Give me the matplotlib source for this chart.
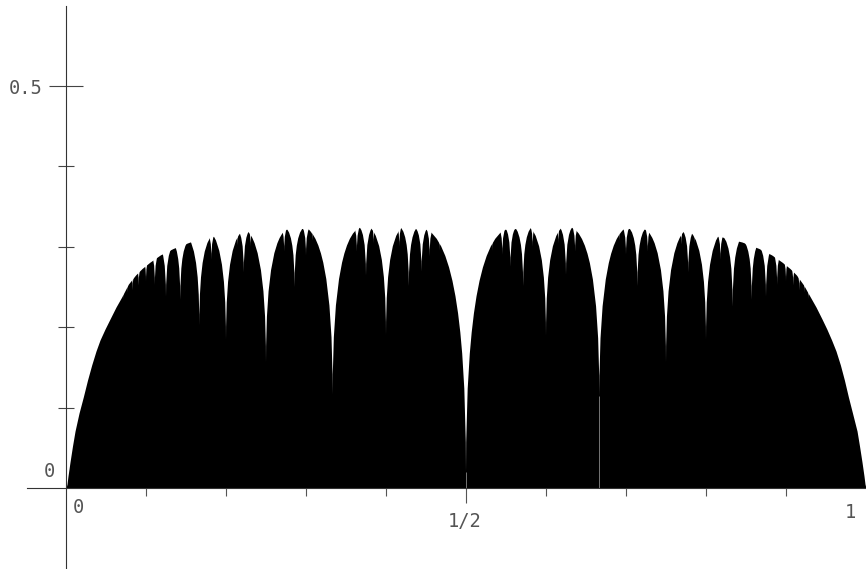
import numpy as np
import matplotlib
matplotlib.use('Agg')
import matplotlib.pyplot as plt
from matplotlib.path import Path
from matplotlib.patches import PathPatch

# smooth outer envelope (arch tops)
env_x = [0.000, 0.00125, 0.0025, 0.005, 0.0081, 0.0113, 0.0163, 0.0216, 0.0269,
         0.0321, 0.0375, 0.0425, 0.0488, 0.055, 0.0625, 0.0696, 0.078, 0.087,
         0.095, 0.105, 0.118, 0.134, 0.155, 0.183, 0.210, 0.250, 0.300, 0.350,
         0.400, 0.450, 0.500, 0.550, 0.600, 0.650, 0.700, 0.750, 0.790, 0.817,
         0.845, 0.866, 0.882, 0.895, 0.905, 0.913, 0.922, 0.9304, 0.9375,
         0.945, 0.951, 0.957, 0.9625, 0.968, 0.973, 0.978, 0.9831, 0.9888,
         0.9919, 0.995, 0.9975, 0.99875, 1.000]
env_y = [0.000, 0.005, 0.0149, 0.0323, 0.0522, 0.0709, 0.0933, 0.1132, 0.1343,
         0.153, 0.1704, 0.1841, 0.1978, 0.2102, 0.2251, 0.2376, 0.2537, 0.265,
         0.273, 0.281, 0.290, 0.298, 0.306, 0.313, 0.318, 0.321, 0.323, 0.324,
         0.325, 0.322, 0.320, 0.322, 0.325, 0.324, 0.323, 0.321, 0.318, 0.313,
         0.306, 0.298, 0.290, 0.281, 0.273, 0.265, 0.2525, 0.2376, 0.2251,
         0.2102, 0.1978, 0.1841, 0.1704, 0.153, 0.1343, 0.1132, 0.0933, 0.0709,
         0.0522, 0.0323, 0.0149, 0.005, 0.000]

# dips at rationals p/q and the depth they reach
notch_x = [1/14, 1/13, 1/12, 1/11, 1/10, 1/9, 1/8, 1/7, 1/6, 2/11, 1/5, 3/14,
           2/9, 3/13, 1/4, 3/11, 2/7, 3/10, 4/13, 1/3, 4/11, 3/8, 5/13, 2/5,
           5/12, 3/7, 4/9, 5/11, 7/15, 1/2, 8/15, 6/11, 5/9, 4/7, 7/12, 3/5,
           8/13, 5/8, 7/11, 2/3, 9/13, 7/10, 5/7, 8/11, 10/13, 3/4, 7/9, 11/14,
           4/5, 9/11, 5/6, 6/7, 7/8, 8/9, 9/10, 10/11, 11/12, 12/13, 13/14]
notch_y = [0.235, 0.243, 0.246, 0.252, 0.257, 0.2525, 0.238, 0.234, 0.202, 0.284, 0.184, 0.302,
           0.268, 0.300, 0.156, 0.294, 0.250, 0.289, 0.308, 0.116, 0.294, 0.264, 0.304, 0.190,
           0.300, 0.251, 0.269, 0.288, 0.295, 0.020, 0.295, 0.290, 0.275, 0.251, 0.300, 0.189,
           0.304, 0.265, 0.294, 0.114, 0.308, 0.290, 0.251, 0.294, 0.303, 0.156, 0.268, 0.305,
           0.184, 0.284, 0.2255, 0.234, 0.238, 0.2525, 0.257, 0.252, 0.246, 0.243, 0.235]

# points where the thin gap runs down to the axis
gap_x = [1/2, 2/3]
gap_y = [0.020, 0.114]


def add_notch(ax, x, yb, env_x, env_y):
    top = np.interp(x, env_x, env_y)
    w = 0.2 * (top - yb)
    yt = max(np.interp([x - w, x, x + w], env_x, env_y)) + 0.002
    verts = [(x - w, yt), (x, yt), (x, yb), (x, yt), (x + w, yt),
             (x + w, yt + 0.05), (x - w, yt + 0.05), (x - w, yt)]
    codes = [Path.MOVETO, Path.CURVE3, Path.CURVE3, Path.CURVE3, Path.CURVE3,
             Path.LINETO, Path.LINETO, Path.CLOSEPOLY]
    ax.add_patch(PathPatch(Path(verts, codes), facecolor='white',
                           edgecolor='none', zorder=2))


fig = plt.figure(figsize=(8.66, 5.69), dpi=100)
ax = fig.add_axes([0, 0, 1, 1])
ax.set_xlim(-0.0825, 1.0)
ax.set_ylim(-0.1007, 0.607)

ax.fill_between(env_x, 0, env_y, color='black', lw=0, zorder=1)
for x, yb in zip(notch_x, notch_y):
    add_notch(ax, x, yb, env_x, env_y)
ax.vlines(gap_x, 0, gap_y, color='#888888', lw=0.6, zorder=2.2)

# axes through the origin
for s in ['top', 'right']:
    ax.spines[s].set_visible(False)
ax.spines['left'].set_position(('data', 0))
ax.spines['bottom'].set_position(('data', 0))
ax.spines['left'].set_bounds(-0.1, 0.6)
ax.spines['bottom'].set_bounds(-0.049, 1.0)
for s in ['left', 'bottom']:
    ax.spines[s].set_color('#333333')
    ax.spines[s].set_linewidth(0.8)
ax.xaxis.set_ticks_position('bottom')
ax.yaxis.set_ticks_position('left')

ax.set_xticks([0.5])
ax.set_xticks([0.1, 0.2, 0.3, 0.4, 0.6, 0.7, 0.8, 0.9], minor=True)
ax.set_yticks([0.5])
ax.set_yticks([0.1, 0.2, 0.3, 0.4], minor=True)
ax.tick_params(axis='x', which='major', direction='out', length=10.8, width=0.8,
               color='#555555', labelbottom=False)
ax.tick_params(axis='x', which='minor', direction='out', length=5.8, width=0.8,
               color='#555555')
ax.tick_params(axis='y', which='major', direction='inout', length=24.5, width=0.8,
               color='#444444', labelleft=False)
ax.tick_params(axis='y', which='minor', direction='inout', length=11.5, width=0.8,
               color='#444444')

font = dict(family='DejaVu Sans Mono', size=13.5, color='#555555')
ax.text(-0.0288, 0.490, '0.5', ha='right', va='baseline', **font)
ax.text(-0.021, 0.014, '0', ha='center', va='baseline', **font)
ax.text(0.0156, -0.031, '0', ha='center', va='baseline', **font)
ax.text(0.4988, -0.0485, '1/2', ha='center', va='baseline', **font)
ax.text(0.981, -0.0373, '1', ha='center', va='baseline', **font)

fig.savefig('out.png', dpi=100)
